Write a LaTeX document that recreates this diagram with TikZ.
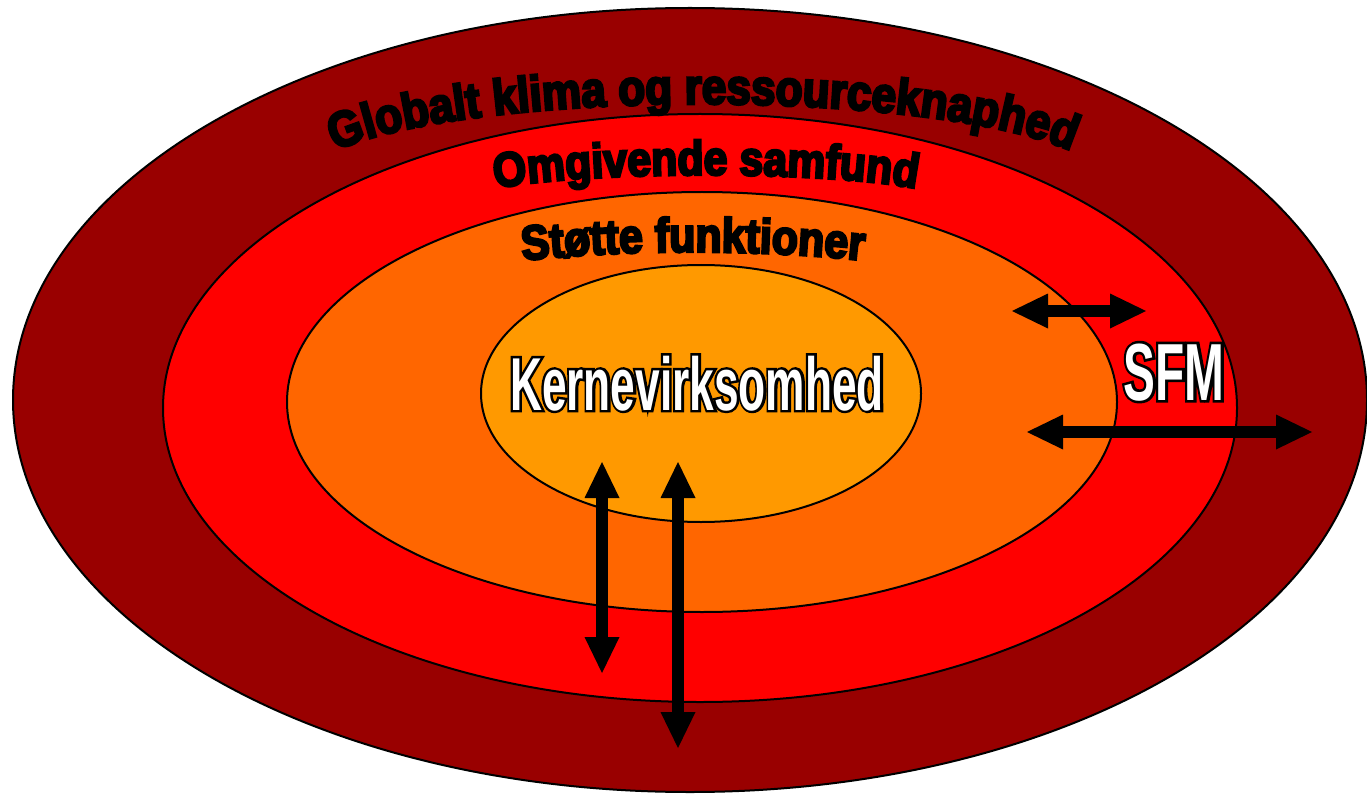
\documentclass[tikz,border=0pt]{standalone}
\usepackage{fontspec}
\usetikzlibrary{decorations.text,arrows.meta}
\newfontfamily\arcfont[FakeBold=5,FakeStretch=0.88]{Liberation Sans Bold}
\newfontfamily\kfont[FakeStretch=0.59]{Liberation Sans Bold}
\newfontfamily\kfontO[FakeStretch=0.59,FakeBold=6.5]{Liberation Sans Bold}
\definecolor{cOuter}{HTML}{990000}
\definecolor{cRed}{HTML}{FF0000}
\definecolor{cOrange}{HTML}{FF6600}
\definecolor{cCore}{HTML}{FF9900}
\begin{document}
\begin{tikzpicture}[x=1pt,y=-1pt,
  ring/.style={draw=black,line width=2pt},
  dbl/.style={line width=12pt,{Triangle[length=36pt,width=35pt,line width=0pt]}-{Triangle[length=36pt,width=35pt,line width=0pt]}},
  arctext/.style 2 args={decorate,decoration={text along path,text align=center,text={|\arcfont\fontsize{#1}{#1}\selectfont|#2}}},
  outl/.style={inner sep=0pt,anchor=base,text=black,font=\kfontO},
  whit/.style={inner sep=0pt,anchor=base,text=white,font=\kfont},
]
\useasboundingbox (0,0) rectangle (1367,794);
\fill[white] (0,0) rectangle (1367,794);
% rings
\draw[ring,fill=cOuter] (690,400) ellipse [x radius=677pt, y radius=392pt];
\draw[ring,fill=cRed] (700,408) ellipse [x radius=537pt, y radius=294pt];
\draw[ring,fill=cOrange] (702,402) ellipse [x radius=415pt, y radius=210pt];
\draw[ring,fill=cCore] (701,393.5) ellipse [x radius=220pt, y radius=128.5pt];
% curved titles
\path[arctext={50}{Globalt klima og ressourceknaphed}] (703,180) ++(179:398pt and 76pt) arc[start angle=179,end angle=1,x radius=398pt,y radius=76pt];
\path[arctext={48.5}{Omgivende samfund}] (706,200) ++(179:236pt and 25pt) arc[start angle=179,end angle=1,x radius=236pt,y radius=25pt];
\path[arctext={48.5}{Støtte funktioner}] (693,300) ++(170:300pt and 48pt) arc[start angle=170,end angle=10,x radius=300pt,y radius=48pt];
% core label
\node[outl] (kernO) at (697,410) {\fontsize{75}{75}\selectfont Kernevirksomhed};
\node[whit] (kern) at (697,410) {\fontsize{75}{75}\selectfont Kernevirksomhed};
\node[outl] (sfmO) at (1174,400) {\fontsize{81}{81}\selectfont SFM};
\node[whit] (sfm) at (1174,400) {\fontsize{81}{81}\selectfont SFM};
% arrows
\coordinate (a1s) at (1012,311); \coordinate (a1e) at (1146,311);
\coordinate (a2s) at (1027,432); \coordinate (a2e) at (1312,432);
\coordinate (v1s) at (602,462);  \coordinate (v1e) at (602,673);
\coordinate (v2s) at (678,462);  \coordinate (v2e) at (678,748);
\draw[dbl] (a1s) -- (a1e);
\draw[dbl] (a2s) -- (a2e);
\draw[dbl] (v1s) -- (v1e);
\draw[dbl] (v2s) -- (v2e);
\end{tikzpicture}
\end{document}
